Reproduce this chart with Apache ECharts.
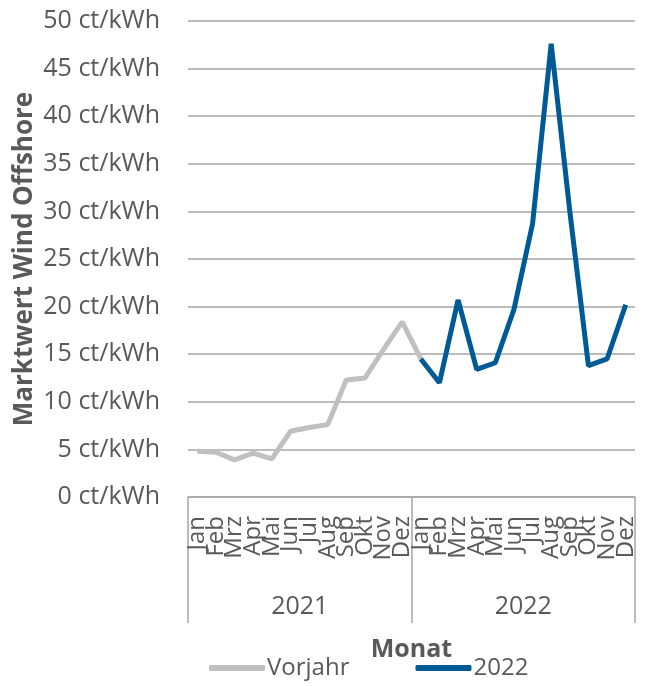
<!DOCTYPE html>
<html>
<head>
<meta charset="utf-8">
<script src="https://cdn.jsdelivr.net/npm/echarts@6/dist/echarts.min.js"></script>
<style>
html,body{margin:0;padding:0;background:#fff;}
#c{width:646px;height:686px;}
</style>
</head>
<body>
<div id="c"></div>
<script>
const months = ['Jan','Feb','Mrz','Apr','Mai','Jun','Jul','Aug','Sep','Okt','Nov','Dez'];
const categories = months.concat(months);
const years = ['2021','2022'];
const vorjahr = [4.8, 4.7, 3.9, 4.6, 4.0, 6.9, 7.3, 7.6, 12.3, 12.5, 15.5, 18.4, 14.5];
const y2022 = [14.5, 12.0, 20.7, 13.4, 14.1, 19.7, 28.7, 47.6, 30.0, 13.8, 14.5, 20.2];
const yTicks = {min: 0, max: 50, interval: 5, unit: ' ct/kWh'};

const gray = '#c0c0c0';
const blue = '#005a96';
const txt = '#595959';
const font = 'Open Sans';

const grayData = categories.map((c, i) => i < vorjahr.length ? vorjahr[i] : null);
const blueData = categories.map((c, i) => i >= 12 ? y2022[i - 12] : null);

const chart = echarts.init(document.getElementById('c'));
chart.setOption({
  animation: false,
  textStyle: {fontFamily: font},
  grid: {left: 188, right: 11, top: 21, bottom: 189, containLabel: false},
  xAxis: [{
    type: 'category',
    data: categories,
    position: 'bottom',
    axisLine: {show: true, lineStyle: {color: '#a6a6a6', width: 1.5}},
    axisTick: {show: false},
    axisLabel: {interval: 0, rotate: 90, margin: 19, fontSize: 24, color: txt, fontFamily: font},
    name: 'Monat',
    nameLocation: 'middle',
    nameGap: 140,
    nameMoveOverlap: false,
    nameTextStyle: {fontSize: 25, fontWeight: 'bold', color: txt, fontFamily: font}
  }, {
    type: 'category',
    data: years,
    position: 'bottom',
    axisLine: {show: false},
    axisTick: {show: true, length: 126, lineStyle: {color: '#a6a6a6', width: 1.5}},
    axisLabel: {margin: 97, fontSize: 25, color: txt, fontFamily: font}
  }],
  yAxis: {
    type: 'value',
    min: yTicks.min, max: yTicks.max, interval: yTicks.interval,
    axisLine: {show: false},
    axisTick: {show: false},
    splitLine: {lineStyle: {color: '#a6a6a6', width: 1.5}},
    axisLabel: {margin: 28, fontSize: 25, color: txt, fontFamily: font,
      formatter: v => v + yTicks.unit},
    name: 'Marktwert Wind Offshore',
    nameLocation: 'middle',
    nameGap: 150,
    nameMoveOverlap: false,
    nameTextStyle: {fontSize: 26, fontWeight: 'bold', color: txt, fontFamily: font}
  },
  legend: {
    top: 651, left: 204,
    itemWidth: 56, itemHeight: 6, itemGap: 66,
    icon: 'roundRect',
    textStyle: {fontSize: 24, color: txt, fontFamily: font, padding: [0,0,0,-3]},
    data: ['Vorjahr', '2022']
  },
  series: [{
    name: 'Vorjahr', type: 'line', data: grayData, xAxisIndex: 0,
    symbol: 'none', lineStyle: {color: gray, width: 5}, itemStyle: {color: gray}, z: 2
  }, {
    name: '2022', type: 'line', data: blueData, xAxisIndex: 0,
    symbol: 'none', lineStyle: {color: blue, width: 5}, itemStyle: {color: blue}, z: 3
  }]
});
</script>
</body>
</html>
